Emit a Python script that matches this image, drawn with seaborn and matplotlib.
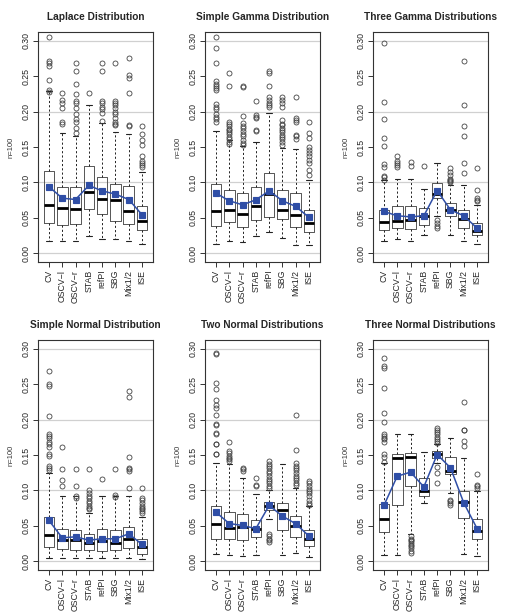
import numpy as np
import matplotlib
matplotlib.use("Agg")
import matplotlib.pyplot as plt
import seaborn as sns

methods = ["CV", "OSCV\u2212l", "OSCV\u2212r", "STAB", "refPI", "SBG", "Mix1/2", "ISE"]
titles = ["Laplace Distribution", "Simple Gamma Distribution", "Three Gamma Distributions",
          "Simple Normal Distribution", "Two Normal Distributions", "Three Normal Distributions"]
ylabel_text = "n=100"
yticks = [0.00, 0.05, 0.10, 0.15, 0.20, 0.25, 0.30]
ytick_labels = ["0.00", "0.05", "0.10", "0.15", "0.20", "0.25", "0.30"]

# ---- Laplace ----
lap_whislo = [0.0165, 0.0165, 0.0165, 0.024, 0.0198, 0.0198, 0.0174, 0.0132]
lap_q1 = [0.0424, 0.040, 0.041, 0.0626, 0.056, 0.0457, 0.041, 0.0325]
lap_med = [0.0674, 0.0636, 0.0626, 0.0871, 0.0772, 0.0754, 0.0589, 0.0457]
lap_q3 = [0.1163, 0.0937, 0.0928, 0.1225, 0.1083, 0.0975, 0.0947, 0.066]
lap_whishi = [0.229, 0.170, 0.165, 0.2096, 0.184, 0.1705, 0.168, 0.1145]
lap_mean = [0.094, 0.0777, 0.0758, 0.0956, 0.088, 0.0834, 0.0758, 0.0542]
lap_fliers = [
    [0.306, 0.271, 0.268, 0.265, 0.245, 0.231, 0.228],
    [0.227, 0.217, 0.212, 0.205, 0.186, 0.183],
    [0.268, 0.257, 0.239, 0.225, 0.215, 0.212, 0.205, 0.196, 0.190, 0.186, 0.177, 0.170],
    [0.227],
    [0.268, 0.257, 0.215, 0.212, 0.207, 0.203, 0.198, 0.187],
    [0.268, 0.215, 0.212, 0.209, 0.205, 0.200, 0.196, 0.191, 0.186, 0.183, 0.181],
    [0.2755, 0.252, 0.247, 0.227, 0.181, 0.179],
    [0.179, 0.168, 0.160, 0.153, 0.1366, 0.130, 0.127, 0.125, 0.122],
]

# ---- Simple Gamma ----
sg_whislo = [0.0127, 0.0174, 0.0155, 0.0236, 0.0297, 0.021, 0.0118, 0.0118]
sg_q1 = [0.0386, 0.0438, 0.0372, 0.0471, 0.0504, 0.048, 0.0372, 0.0297]
sg_med = [0.0598, 0.0608, 0.056, 0.0664, 0.0838, 0.0612, 0.0542, 0.0433]
sg_q3 = [0.0975, 0.089, 0.0848, 0.0928, 0.1126, 0.089, 0.0843, 0.0608]
sg_whishi = [0.172, 0.160, 0.152, 0.157, 0.198, 0.148, 0.147, 0.1036]
sg_mean = [0.0848, 0.074, 0.0683, 0.0754, 0.088, 0.074, 0.066, 0.0504]
sg_fliers = [
    [0.306, 0.290, 0.268, 0.243, 0.239, 0.236, 0.233, 0.231, 0.211, 0.207, 0.203,
     0.196, 0.193, 0.190, 0.186],
    [0.254, 0.236, 0.186, 0.182, 0.179, 0.176, 0.174, 0.171, 0.168, 0.164, 0.161, 0.157, 0.154],
    [0.236, 0.235, 0.1945, 0.184, 0.180, 0.177, 0.172, 0.168, 0.165, 0.160, 0.156, 0.153],
    [0.215, 0.195, 0.193, 0.191, 0.174, 0.172],
    [0.257, 0.254, 0.236, 0.221, 0.217, 0.212, 0.209, 0.206],
    [0.221, 0.217, 0.212, 0.207, 0.188, 0.183, 0.181, 0.177, 0.174, 0.171, 0.167,
     0.164, 0.161, 0.157, 0.153],
    [0.2205, 0.191, 0.188, 0.186, 0.167, 0.165, 0.162],
    [0.185, 0.1696, 0.1634, 0.1507, 0.146, 0.141, 0.1366, 0.132, 0.127, 0.118, 0.111],
]

# ---- Three Gamma ----
tg_whislo = [0.0174, 0.0198, 0.0165, 0.025, 0.052, 0.025, 0.0165, 0.0127]
tg_q1 = [0.033, 0.0353, 0.0344, 0.040, 0.0777, 0.0518, 0.0353, 0.025]
tg_med = [0.0447, 0.046, 0.047, 0.0518, 0.0838, 0.0612, 0.048, 0.0316]
tg_q3 = [0.0612, 0.066, 0.066, 0.0636, 0.0985, 0.071, 0.0612, 0.0424]
tg_whishi = [0.1036, 0.1046, 0.1046, 0.091, 0.1276, 0.0966, 0.0966, 0.068]
tg_mean = [0.0589, 0.0528, 0.0513, 0.0528, 0.0885, 0.0612, 0.0528, 0.0353]
tg_fliers = [
    [0.297, 0.214, 0.190, 0.1625, 0.152, 0.126, 0.122, 0.109, 0.107, 0.104],
    [0.1375, 0.130, 0.127, 0.125, 0.122],
    [0.1286, 0.1225],
    [0.1225],
    [0.047, 0.042, 0.039, 0.036],
    [0.120, 0.115, 0.111, 0.105, 0.104, 0.102, 0.100],
    [0.272, 0.2087, 0.179, 0.166, 0.127, 0.113],
    [0.120, 0.0895, 0.078, 0.075, 0.073],
]

# ---- Simple Normal ----
sn_whislo = [0.0047, 0.0047, 0.0047, 0.0047, 0.0047, 0.0047, 0.0047, 0.0033]
sn_q1 = [0.0198, 0.0165, 0.0155, 0.0155, 0.0141, 0.0155, 0.0179, 0.0108]
sn_med = [0.0363, 0.0297, 0.0297, 0.025, 0.0283, 0.025, 0.0316, 0.0203]
sn_q3 = [0.0622, 0.0457, 0.0447, 0.0377, 0.0457, 0.0447, 0.0485, 0.032]
sn_whishi = [0.125, 0.0918, 0.0918, 0.068, 0.0918, 0.0918, 0.0918, 0.062]
sn_mean = [0.0575, 0.033, 0.0344, 0.0297, 0.0316, 0.0316, 0.0386, 0.0236]
sn_fliers = [
    [0.2685, 0.250, 0.247, 0.205, 0.179, 0.177, 0.174, 0.168, 0.165, 0.161,
     0.151, 0.149, 0.134, 0.132, 0.129],
    [0.161, 0.130, 0.114, 0.106],
    [0.130, 0.106, 0.0918, 0.0895],
    [0.130, 0.101, 0.096, 0.092, 0.089, 0.085, 0.082, 0.078, 0.075, 0.073],
    [0.1155],
    [0.130, 0.093, 0.091],
    [0.240, 0.232, 0.147, 0.132, 0.130, 0.127, 0.1036],
    [0.1036, 0.0895, 0.086, 0.082, 0.078, 0.075, 0.073, 0.071, 0.068],
]

# ---- Two Normal ----
tn_whislo = [0.0108, 0.008, 0.007, 0.0085, 0.059, 0.0094, 0.0118, 0.006]
tn_q1 = [0.032, 0.0306, 0.0297, 0.034, 0.072, 0.0447, 0.034, 0.0212]
tn_med = [0.0523, 0.047, 0.0485, 0.046, 0.0777, 0.072, 0.0495, 0.0316]
tn_q3 = [0.0777, 0.0697, 0.067, 0.058, 0.0838, 0.0815, 0.0636, 0.0447]
tn_whishi = [0.139, 0.1366, 0.118, 0.095, 0.100, 0.1366, 0.104, 0.0777]
tn_mean = [0.0692, 0.0532, 0.0504, 0.046, 0.0787, 0.0636, 0.0528, 0.0353]
tn_fliers = [
    [0.294, 0.293, 0.252, 0.2435, 0.228, 0.220, 0.217, 0.207, 0.1945, 0.1917,
     0.181, 0.180, 0.166, 0.165, 0.152, 0.151],
    [0.168, 0.155, 0.153, 0.148, 0.146, 0.144, 0.141],
    [0.132, 0.130, 0.127],
    [0.117, 0.108, 0.106],
    [0.141, 0.137, 0.134, 0.131, 0.127, 0.124, 0.120, 0.116, 0.113, 0.110, 0.106, 0.103,
     0.0386, 0.035, 0.032, 0.030, 0.027],
    [],
    [0.206, 0.157, 0.139, 0.135, 0.132, 0.129, 0.125, 0.121, 0.118, 0.114, 0.111, 0.107],
    [0.113, 0.110, 0.106, 0.102, 0.099, 0.096, 0.092, 0.087, 0.082, 0.080],
]

# ---- Three Normal ----
thn_whislo = [0.0094, 0.0085, 0.0377, 0.0824, 0.139, 0.0966, 0.0108, 0.007]
thn_q1 = [0.041, 0.0796, 0.1055, 0.092, 0.146, 0.1225, 0.0612, 0.0306]
thn_med = [0.0598, 0.146, 0.147, 0.099, 0.152, 0.128, 0.0834, 0.0424]
thn_q3 = [0.081, 0.152, 0.153, 0.117, 0.155, 0.147, 0.099, 0.0589]
thn_whishi = [0.139, 0.180, 0.180, 0.1545, 0.165, 0.174, 0.146, 0.099]
thn_mean = [0.0787, 0.120, 0.1258, 0.105, 0.1507, 0.132, 0.0824, 0.046]
thn_fliers = [
    [0.2875, 0.2755, 0.273, 0.245, 0.210, 0.196, 0.180, 0.177, 0.174, 0.172, 0.168,
     0.151, 0.147, 0.140],
    [],
    [0.035, 0.032, 0.030, 0.028, 0.026, 0.023, 0.021, 0.018, 0.015, 0.012],
    [],
    [0.188, 0.185, 0.182, 0.179, 0.176, 0.173, 0.170, 0.167, 0.133, 0.125, 0.111],
    [0.087, 0.085, 0.0824, 0.080],
    [0.225, 0.186, 0.185, 0.170, 0.1634],
    [0.1225, 0.108, 0.106, 0.1036],
]

panels = [
    (lap_whislo, lap_q1, lap_med, lap_q3, lap_whishi, lap_mean, lap_fliers),
    (sg_whislo, sg_q1, sg_med, sg_q3, sg_whishi, sg_mean, sg_fliers),
    (tg_whislo, tg_q1, tg_med, tg_q3, tg_whishi, tg_mean, tg_fliers),
    (sn_whislo, sn_q1, sn_med, sn_q3, sn_whishi, sn_mean, sn_fliers),
    (tn_whislo, tn_q1, tn_med, tn_q3, tn_whishi, tn_mean, tn_fliers),
    (thn_whislo, thn_q1, thn_med, thn_q3, thn_whishi, thn_mean, thn_fliers),
]

sns.set_style("white")
plt.rcParams['font.family'] = ['Liberation Sans', 'DejaVu Sans']

W, H = 508, 615
fig = plt.figure(figsize=(W / 100, H / 100), dpi=100)

lefts = [38, 205, 373]
tops = [32, 340]
aw, ah = 115, 230

mean_color = "#2f4ea6"

for idx, (wlo, q1, med, q3, whi, mean, fl) in enumerate(panels):
    r, c = divmod(idx, 3)
    x0 = lefts[c] / W
    y0 = 1 - (tops[r] + ah) / H
    ax = fig.add_axes([x0, y0, aw / W, ah / H])

    for gy in [0.0, 0.1, 0.2, 0.3]:
        ax.axhline(gy, color="#d0d0d0", lw=0.9, zorder=0)

    stats = []
    for i in range(len(methods)):
        stats.append(dict(whislo=wlo[i], q1=q1[i], med=med[i], q3=q3[i],
                          whishi=whi[i], fliers=fl[i], label=methods[i]))
    ax.bxp(stats, positions=np.arange(len(methods)), widths=0.8, capwidths=0.4,
           showfliers=True, patch_artist=False,
           boxprops=dict(color="#555555", lw=0.7),
           medianprops=dict(color="black", lw=2.0, solid_capstyle="butt"),
           whiskerprops=dict(color="#222222", lw=0.7, linestyle=(0, (2.2, 2.2))),
           capprops=dict(color="#222222", lw=0.8),
           flierprops=dict(marker="o", markersize=3.6, markerfacecolor="none",
                           markeredgecolor="#444444", markeredgewidth=0.6, linestyle="none"),
           manage_ticks=False, zorder=2)

    sns.pointplot(x=np.arange(len(methods)), y=mean, ax=ax, native_scale=True,
                  color=mean_color, markers="s", errorbar=None,
                  markersize=4.6, linewidth=1.1, zorder=5)

    ax.set_xlim(-0.82, len(methods) - 1 + 0.82)
    ax.set_ylim(-0.0125, 0.3125)
    ax.set_xticks(np.arange(len(methods)))
    ax.set_xticklabels(methods, rotation=90, fontsize=6.3)
    ax.set_yticks(yticks)
    ax.set_yticklabels(ytick_labels, rotation=90, va="center", fontsize=6.3)
    ax.tick_params(axis="both", direction="out", length=3.5, width=0.7, color="#333333",
                   pad=2, left=True, bottom=True)
    ax.set_xlabel("")
    ax.set_ylabel(ylabel_text, fontsize=5.5, labelpad=5, color="#333333")
    for s in ax.spines.values():
        s.set_visible(True)
        s.set_color("#333333")
        s.set_linewidth(0.8)
    ax.set_title(titles[idx], fontsize=7.3, fontweight="bold", pad=9)
    ax.grid(False)

fig.savefig("out.png", dpi=100)
